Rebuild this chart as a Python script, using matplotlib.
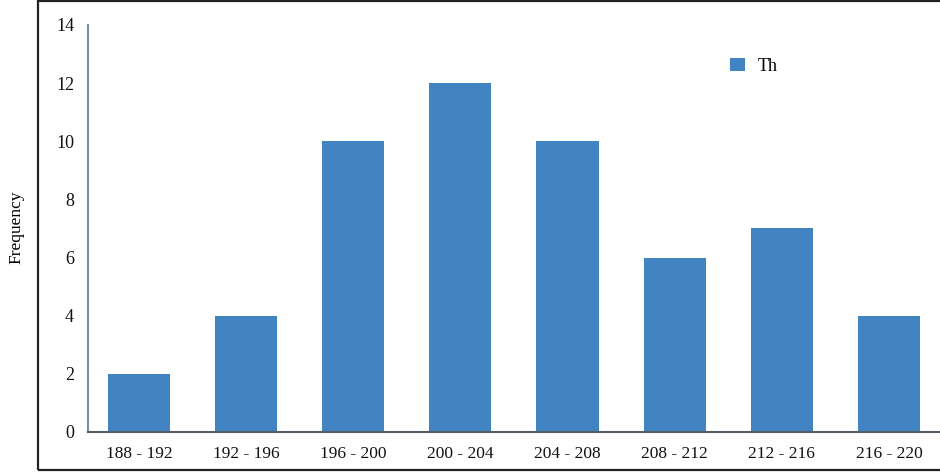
import matplotlib.pyplot as plt
import matplotlib.patches as patches
import numpy as np

plt.rcParams['font.family'] = ['Liberation Serif', 'DejaVu Serif']

# Data
categories = ['188 - 192', '192 - 196', '196 - 200', '200 - 204',
              '204 - 208', '208 - 212', '212 - 216', '216 - 220']
frequency = [2, 4, 10, 12, 10, 6, 7, 4]

fig = plt.figure(figsize=(9.4, 4.73), dpi=100)
ax = fig.add_axes([0.0936, 0.0867, 0.9064, 0.8605])

x = np.arange(len(categories))
ax.bar(x, frequency, width=0.58, color='#4283C2', label='Th', zorder=2)

ax.set_xlim(-0.476, 7.476)
ax.set_ylim(0, 14)
ax.set_yticks(range(0, 15, 2))
ax.set_xticks(x)
ax.set_xticklabels(categories)
ax.tick_params(axis='both', length=0, colors='#111111')
ax.tick_params(axis='y', pad=10, labelsize=13)
ax.tick_params(axis='x', pad=10, labelsize=12.5)

for side in ['top', 'right']:
    ax.spines[side].set_visible(False)
ax.spines['left'].set_color('#7f8c99')
ax.spines['left'].set_linewidth(1.5)
ax.spines['bottom'].set_color('#555e66')
ax.spines['bottom'].set_linewidth(1.5)
ax.spines['bottom'].set_zorder(3)

fig.text(0.017, 0.52, 'Frequency', rotation=90, ha='center', va='center',
         fontsize=12.5)

ax.legend(loc='upper left', bbox_to_anchor=(0.735, 0.96), frameon=False,
          fontsize=13, handlelength=0.8, handleheight=0.8, handletextpad=0.7)

# Ytterram
frame = patches.Rectangle((38 / 940, 3 / 473), 1.0, 469 / 473,
                          transform=fig.transFigure, fill=False,
                          edgecolor='#222222', linewidth=1.6)
fig.patches.append(frame)

plt.savefig('out.png', dpi=100)
plt.close()
